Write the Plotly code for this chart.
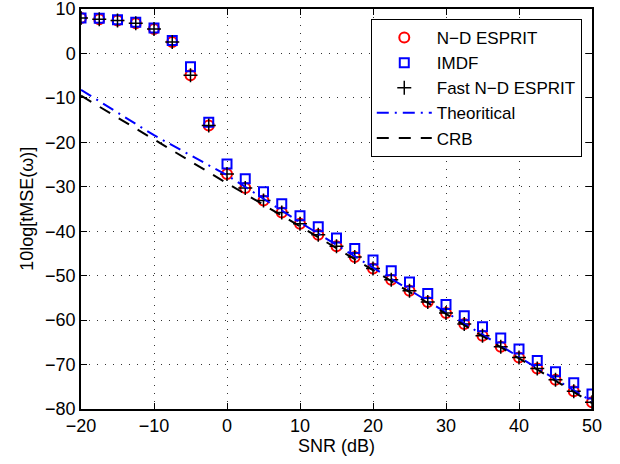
import plotly.graph_objects as go

snr = [-20, -17.5, -15, -12.5, -10, -7.5, -5, -2.5, 0, 2.5, 5, 7.5, 10, 12.5, 15,
       17.5, 20, 22.5, 25, 27.5, 30, 32.5, 35, 37.5, 40, 42.5, 45, 47.5, 50]
nd_esprit = [8.0, 7.7, 7.4, 6.8, 5.5, 2.6, -4.9, -16.2, -27.1, -30.3, -33.1, -35.8, -38.3,
             -40.8, -43.4, -45.8, -48.4, -50.9, -53.4, -55.9, -58.4, -60.9, -63.5, -66.0,
             -68.4, -70.9, -73.4, -76.0, -78.5]
imdf = [8.0, 7.9, 7.6, 7.0, 5.7, 2.9, -3.0, -15.5, -24.9, -28.2, -31.1, -33.8, -36.5,
        -39.0, -41.5, -43.9, -46.5, -48.9, -51.4, -54.0, -56.5, -59.0, -61.5, -64.0,
        -66.5, -69.1, -71.6, -74.1, -76.6]
fast_nd_esprit = [8.0, 7.7, 7.4, 6.8, 5.5, 2.6, -4.9, -16.2, -27.1, -30.3, -33.1, -35.8, -38.3,
                  -40.8, -43.4, -45.8, -48.4, -50.9, -53.4, -55.9, -58.4, -60.9, -63.5, -66.0,
                  -68.4, -70.9, -73.4, -76.0, -78.5]
snr_line = [-20, -10, 0, 10, 20, 30, 40, 50]
theoretical = [-8.2, -18.4, -27.4, -38.0, -48.2, -58.3, -68.3, -78.3]
crb = [-9.5, -19.4, -29.2, -38.9, -48.7, -58.6, -68.6, -78.7]

x_ticks = [-20, -10, 0, 10, 20, 30, 40, 50]
y_ticks = [10, 0, -10, -20, -30, -40, -50, -60, -70, -80]

FONT = "Liberation Sans, Arial, Helvetica, sans-serif"

fig = go.Figure()
fig.add_trace(go.Scatter(x=snr, y=nd_esprit, mode="markers", name="N\u2212D ESPRIT",
                         marker=dict(symbol="circle-open", size=10, color="#ff0000",
                                     line=dict(width=2, color="#ff0000"))))
fig.add_trace(go.Scatter(x=snr, y=imdf, mode="markers", name="IMDF",
                         marker=dict(symbol="square-open", size=9, color="#0000ff",
                                     line=dict(width=2, color="#0000ff"))))
fig.add_trace(go.Scatter(x=snr, y=fast_nd_esprit, mode="markers", name="Fast N\u2212D ESPRIT",
                         marker=dict(symbol="cross-thin-open", size=10, color="#000000",
                                     line=dict(width=1.5, color="#000000"))))
fig.add_trace(go.Scatter(x=snr_line, y=theoretical, mode="lines", name="Theoritical",
                         line=dict(color="#0000ff", width=2, dash="12px,6px,2px,6px")))
fig.add_trace(go.Scatter(x=snr_line, y=crb, mode="lines", name="CRB",
                         line=dict(color="#000000", width=2, dash="12px,10px")))

axis_common = dict(
    showline=True, linecolor="black", linewidth=1.5, mirror="ticks",
    ticks="inside", ticklen=6, tickwidth=1, tickcolor="black",
    showgrid=True, gridcolor="#333333", gridwidth=1, griddash="1px,7px",
    zeroline=False, automargin=False, ticklabeloverflow="allow",
    tickfont=dict(family=FONT, size=18, color="black"),
)

fig.update_xaxes(range=[-20, 50], tickvals=x_ticks,
                 title=dict(text="SNR (dB)", font=dict(family=FONT, size=18, color="black"), standoff=2),
                 **axis_common)
fig.update_yaxes(range=[-80, 10], tickvals=y_ticks, **axis_common)

fig.add_annotation(text="10log[tMSE(\u03c9)]", xref="paper", yref="paper",
                   x=-0.106, y=0.5, xanchor="center", yanchor="middle", textangle=-90,
                   showarrow=False, font=dict(family=FONT, size=18, color="black"))

fig.update_layout(
    width=620, height=464,
    margin=dict(l=81, r=28, t=9, b=55, autoexpand=False),
    plot_bgcolor="white", paper_bgcolor="white",
    font=dict(family=FONT, size=18, color="black"),
    legend=dict(x=0.98, y=0.975, xanchor="right", yanchor="top",
                bgcolor="white", bordercolor="black", borderwidth=1,
                font=dict(family=FONT, size=17, color="black"),
                tracegroupgap=0, itemwidth=55),
)

fig.write_html("out.html", post_script="document.body.style.margin='0';",
               config={"displayModeBar": False})
